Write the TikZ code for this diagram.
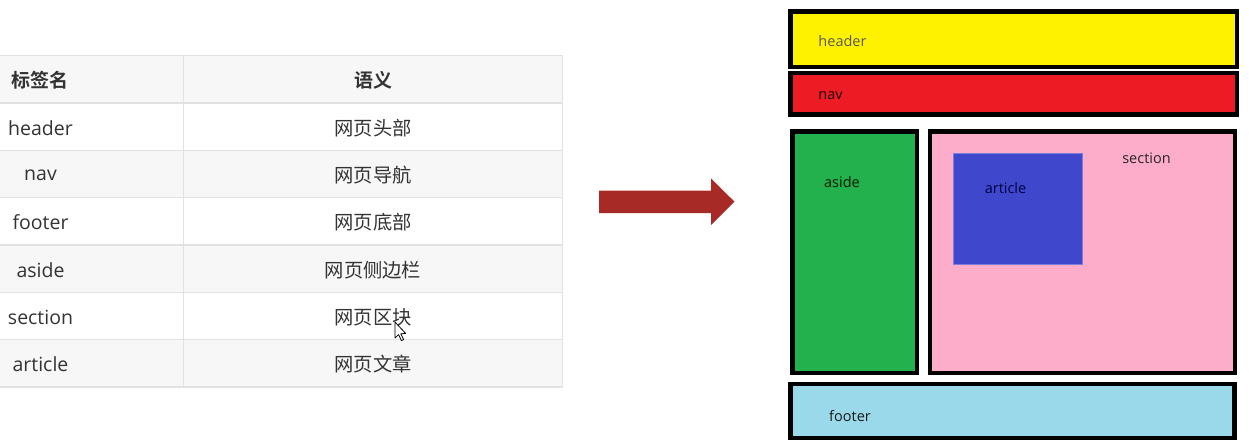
\documentclass[tikz,border=0pt]{standalone}
\usepackage{fontspec}
\setmainfont{Open Sans}
\newfontfamily\cjk{Noto Sans CJK SC}
\newfontfamily\cjkb{Noto Sans CJK SC Bold}
\usetikzlibrary{fit}
\definecolor{rowgray}{HTML}{F7F7F7}
\definecolor{gridline}{HTML}{E2E2E2}
\definecolor{tabtext}{HTML}{333333}
\definecolor{arrowred}{HTML}{A82A26}
\definecolor{hyellow}{HTML}{FFF200}
\definecolor{nred}{HTML}{ED1C24}
\definecolor{agreen}{HTML}{22B14C}
\definecolor{spink}{HTML}{FDADC9}
\definecolor{ablue}{HTML}{3F48CC}
\definecolor{flblue}{HTML}{99D9EA}
\tikzset{
  latin/.style={font=\fontsize{19.5}{22}\selectfont, text=tabtext, inner sep=0pt},
  han/.style={font=\cjk\fontsize{19.3}{22}\selectfont, text=tabtext, inner sep=0pt},
  hanb/.style={font=\cjkb\fontsize{19}{22}\selectfont, text=tabtext, inner sep=0pt},
  layoutbox/.style={draw=black, line width=4.5pt, inner sep=0pt},
  lbl/.style={font=\fontsize{14.5}{16}\selectfont, inner sep=0pt},
}
\begin{document}
\begin{tikzpicture}[x=1pt,y=-1pt]
\useasboundingbox (0,0) rectangle (1249,445);
% ---------- table ----------
\fill[rowgray] (0,55.7) rectangle (562.7,103);
\fill[rowgray] (0,150.3) rectangle (562.7,197.6);
\fill[rowgray] (0,244.9) rectangle (562.7,292.2);
\fill[rowgray] (0,339.5) rectangle (562.7,386.8);
\foreach \yy in {55.7,103,150.3,197.6,244.9,292.2,339.5,386.8}
  \draw[gridline, line width=1.4pt] (0,\yy) -- (562.7,\yy);
\draw[gridline, line width=1.4pt] (183.3,55.7) -- (183.3,386.8);
\draw[gridline, line width=1.4pt] (562.7,55.7) -- (562.7,386.8);

\node[hanb, anchor=west] (th1) at (11,80) {标签名};
\node[hanb] (th2) at (373,80) {语义};

\node[latin] (t1) at (40.5,128) {header};
\node[latin] (t2) at (40.5,175.5) {nav};
\node[latin] (t3) at (40.5,222) {footer};
\node[latin] (t4) at (40.5,270) {aside};
\node[latin] (t5) at (40.5,317) {section};
\node[latin] (t6) at (40.5,364) {article};

\node[han] (s1) at (373,128) {网页头部};
\node[han] (s2) at (373,175) {网页导航};
\node[han] (s3) at (373,222) {网页底部};
\node[han] (s4) at (373,270) {网页侧边栏};
\node[han] (s5) at (373,317) {网页区块};
\node[han] (s6) at (373,364) {网页文章};

% mouse cursor
\draw[fill=white, line width=0.8pt, line join=round]
  (395,322) -- (395,338) -- (398.6,334.6) -- (401.4,340.6) -- (403.6,339.6)
  -- (400.8,333.8) -- (405.6,333.4) -- cycle;

% ---------- arrow ----------
\fill[arrowred] (599,190.5) -- (711,190.5) -- (711,178.5) -- (734.5,201.7)
  -- (711,225) -- (711,213.2) -- (599,213.2) -- cycle;

% ---------- layout ----------
\node[layoutbox, fill=hyellow, fit={(790.5,11.5) (1237,67)}] (header) {};
\node[layoutbox, fill=nred, fit={(790.5,73) (1236.8,114.5)}] (nav) {};
\node[layoutbox, fill=agreen, fit={(792.3,131.5) (916.8,372.8)}] (aside) {};
\node[layoutbox, fill=spink, fit={(930,131.3) (1235,372.8)}] (section) {};
\node[draw=ablue!70!white, line width=0.8pt, fill=ablue, inner sep=0pt,
      fit={(953.3,153.7) (1082.7,264.3)}] (article) {};
\node[layoutbox, fill=flblue, fit={(790.5,384) (1234.5,437.8)}] (footer) {};

\node[lbl, text=black!65] (lheader) at (842.5,41.5) {header};
\node[lbl, text=black!90!red] (lnav) at (830.5,95.5) {nav};
\node[lbl, text=black!90!green] (laside) at (842,182.5) {aside};
\node[lbl, text=black!85] (lsection) at (1146.5,158.5) {section};
\node[lbl, text=black!75!blue] (larticle) at (1005.5,188.5) {article};
\node[lbl, text=black!90] (lfooter) at (850,416.5) {footer};
\end{tikzpicture}
\end{document}
